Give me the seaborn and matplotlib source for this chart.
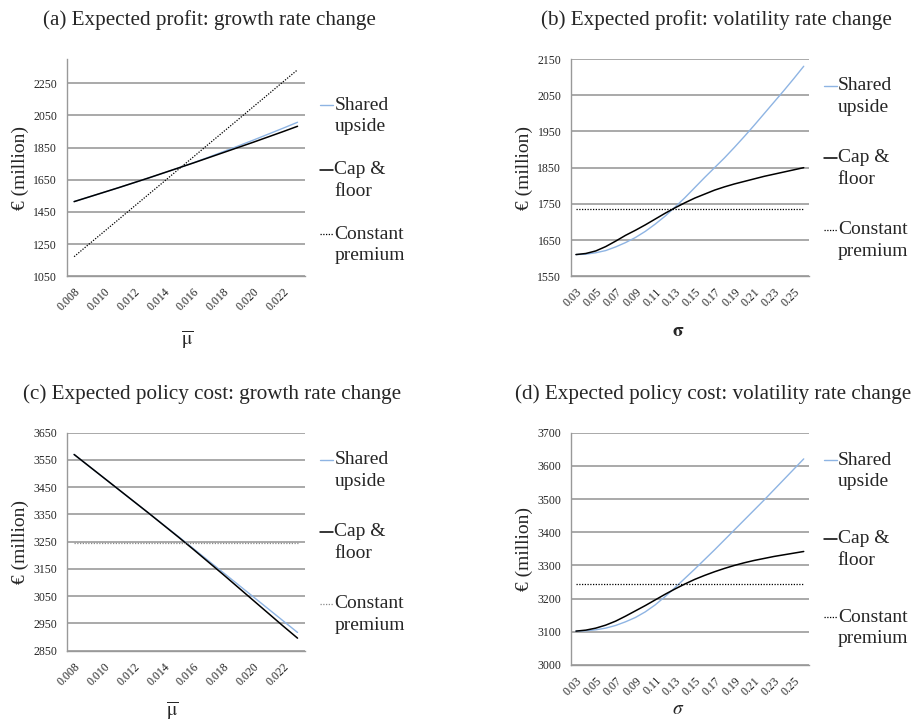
import numpy as np
import pandas as pd
import matplotlib
matplotlib.use('Agg')
import matplotlib.pyplot as plt
from matplotlib.lines import Line2D
from matplotlib.ticker import FixedLocator
import seaborn as sns

sns.set_style('white')
plt.rcParams['font.family'] = ['Liberation Serif', 'DejaVu Serif']
plt.rcParams['mathtext.fontset'] = 'stix'

#%% data
mu = [0.008, 0.009, 0.010, 0.011, 0.012, 0.013, 0.014, 0.015,
      0.016, 0.017, 0.018, 0.019, 0.020, 0.021, 0.022, 0.023]
sigma = [0.03, 0.04, 0.05, 0.06, 0.07, 0.08, 0.09, 0.10, 0.11, 0.12, 0.13, 0.14,
         0.15, 0.16, 0.17, 0.18, 0.19, 0.20, 0.21, 0.22, 0.23, 0.24, 0.25, 0.26]

# (a) expected profit vs growth rate
profit_mu_shared = [1514, 1543, 1572, 1601, 1631, 1661, 1692, 1723,
                    1755, 1789, 1824, 1859, 1895, 1932, 1969, 2007]
profit_mu_cap = [1514, 1543, 1572, 1601, 1631, 1661, 1692, 1723,
                 1754, 1786, 1818, 1850, 1882, 1915, 1948, 1982]
profit_mu_const = [1172, 1250, 1327, 1404, 1482, 1559, 1636, 1714,
                   1791, 1869, 1946, 2023, 2101, 2178, 2256, 2333]

# (b) expected profit vs volatility
profit_sig_shared = [1610, 1611, 1615, 1621, 1631, 1643, 1657, 1674, 1694, 1716, 1741, 1767,
                     1795, 1823, 1850, 1877, 1906, 1936, 1967, 1999, 2031, 2063, 2096, 2130]
profit_sig_cap = [1610, 1613, 1620, 1632, 1647, 1663, 1677, 1692, 1708, 1724, 1739, 1753,
                  1766, 1777, 1788, 1797, 1805, 1812, 1819, 1826, 1832, 1838, 1844, 1850]
profit_sig_const = [1736] * 24

# (c) expected policy cost vs growth rate
cost_mu_shared = [3570, 3527, 3484, 3441, 3398, 3355, 3312, 3269,
                  3225, 3181, 3137, 3093, 3049, 3005, 2961, 2917]
cost_mu_cap = [3570, 3527, 3484, 3441, 3398, 3355, 3311, 3267,
               3222, 3176, 3130, 3083, 3036, 2989, 2942, 2896]
cost_mu_const = [3245] * 16

# (d) expected policy cost vs volatility
cost_sig_shared = [3102, 3103, 3106, 3111, 3119, 3130, 3143, 3160, 3181, 3206, 3233, 3261,
                   3289, 3318, 3347, 3377, 3407, 3437, 3467, 3497, 3528, 3559, 3590, 3621]
cost_sig_cap = [3102, 3105, 3111, 3120, 3132, 3147, 3163, 3179, 3196, 3213, 3229, 3244,
                3258, 3270, 3281, 3291, 3300, 3308, 3315, 3321, 3327, 3332, 3337, 3342]
cost_sig_const = [3243] * 24

series_names = [('Shared', 'upside'), ('Cap &', 'floor'), ('Constant', 'premium')]
blue = '#8EB4E3'

#%% figure
fig = plt.figure(figsize=(9.12, 7.25), dpi=100)

mu_labels = ['0.008', '0.010', '0.012', '0.014', '0.016', '0.018', '0.020', '0.022']
sig_labels = ['0.03', '0.05', '0.07', '0.09', '0.11', '0.13', '0.15', '0.17', '0.19', '0.21', '0.23', '0.25']
mu_bar = r'$\overline{\mathrm{\mu}}$'

panels = [
    dict(rect=[0.0731, 0.6189, 0.2613, 0.2997], x=mu, ys=[profit_mu_shared, profit_mu_cap, profit_mu_const],
         ylim=(1050, 2400), yticks=np.arange(1050, 2251, 200), step=0.001, xlabels=mu_labels,
         xlab=mu_bar, const_color='black', top_frac=0.788, gap=64.5,
         title='(a) Expected profit: growth rate change', title_xy=(43, 20), xlab_xy=(187, 340)),
    dict(rect=[0.6261, 0.6189, 0.2606, 0.2997], x=sigma, ys=[profit_sig_shared, profit_sig_cap, profit_sig_const],
         ylim=(1550, 2150), yticks=np.arange(1550, 2151, 100), step=0.01, xlabels=sig_labels,
         xlab=r'$\mathbf{\sigma}$', const_color='black', top_frac=0.876, gap=72,
         title='(b) Expected profit: volatility rate change', title_xy=(541, 20), xlab_xy=(678, 332)),
    dict(rect=[0.0731, 0.1025, 0.2613, 0.3007], x=mu, ys=[cost_mu_shared, cost_mu_cap, cost_mu_const],
         ylim=(2850, 3650), yticks=np.arange(2850, 3651, 100), step=0.001, xlabels=mu_labels,
         xlab=mu_bar, const_color='#8a8a8a', top_frac=0.875, gap=72,
         title='(c) Expected policy cost: growth rate change', title_xy=(23, 394), xlab_xy=(172, 711)),
    dict(rect=[0.6261, 0.0828, 0.2606, 0.3204], x=sigma, ys=[cost_sig_shared, cost_sig_cap, cost_sig_const],
         ylim=(3000, 3700), yticks=np.arange(3000, 3701, 100), step=0.01, xlabels=sig_labels,
         xlab=r'$\sigma$', const_color='black', top_frac=0.882, gap=78.5,
         title='(d) Expected policy cost: volatility rate change', title_xy=(515, 394), xlab_xy=(678, 710)),
]

W, H = 912, 725
for p in panels:
    ax = fig.add_axes(p['rect'])
    x = np.array(p['x'])
    styles = [dict(color=blue, lw=1.0, ls='-'),
              dict(color='black', lw=1.1, ls='-'),
              dict(color=p['const_color'], lw=0.9, ls=(0, (1, 1.2)))]
    for y, st in zip(p['ys'], styles):
        sns.lineplot(ax=ax, x=x, y=y, color=st['color'], lw=st['lw'], linestyle=st['ls'])

    step = p['step']
    ax.set_xlim(x[0] - step / 2, x[-1] + step / 2)
    ax.set_ylim(*p['ylim'])
    ax.set_yticks(p['yticks'])
    ax.set_yticklabels([str(int(v)) for v in p['yticks']], fontsize=8.5)
    # category-style x axis: tick marks on boundaries, labels on every other category
    ax.xaxis.set_minor_locator(FixedLocator(np.arange(len(x) + 1) * step + x[0] - step / 2))
    ax.set_xticks([float(s) for s in p['xlabels']])
    ax.set_xticklabels(p['xlabels'], rotation=45, ha='right', rotation_mode='anchor', fontsize=8.5)
    ax.tick_params(axis='x', which='major', length=0, pad=7)
    ax.tick_params(axis='x', which='minor', length=4, color='#888888', width=0.8, direction='out')
    ax.tick_params(axis='y', length=3, color='#888888', width=0.8, direction='out', pad=4)
    ax.grid(axis='y', color='#a3a3a3', lw=1.3)
    ax.set_axisbelow(True)
    for s in ['top', 'right']:
        ax.spines[s].set_visible(False)
    for s in ['left', 'bottom']:
        ax.spines[s].set_color('#999999')
        ax.spines[s].set_linewidth(1.0)
    ax.set_xlabel('')
    ax.set_ylabel('€ (million)', fontsize=14, labelpad=3)

    fig.text(p['xlab_xy'][0] / W, 1 - p['xlab_xy'][1] / H, p['xlab'], fontsize=14, ha='center', va='center')
    fig.text(p['title_xy'][0] / W, 1 - p['title_xy'][1] / H, p['title'], fontsize=15.2,
             ha='left', va='center')

    # Excel-style legend to the right, sample line level with the first text line
    ax_h = p['rect'][3] * H
    for i, ((l1, l2), st) in enumerate(zip(series_names, styles)):
        yy = p['top_frac'] - i * p['gap'] / ax_h
        ax.add_line(Line2D([1.063, 1.118], [yy, yy], transform=ax.transAxes, color=st['color'],
                           lw=st['lw'], ls=st['ls'], clip_on=False))
        ax.text(1.123, yy, l1, transform=ax.transAxes, fontsize=14, ha='left', va='center')
        ax.text(1.123, yy - 21.5 / ax_h, l2, transform=ax.transAxes, fontsize=14, ha='left', va='center')

fig.savefig('out.png', dpi=100)
